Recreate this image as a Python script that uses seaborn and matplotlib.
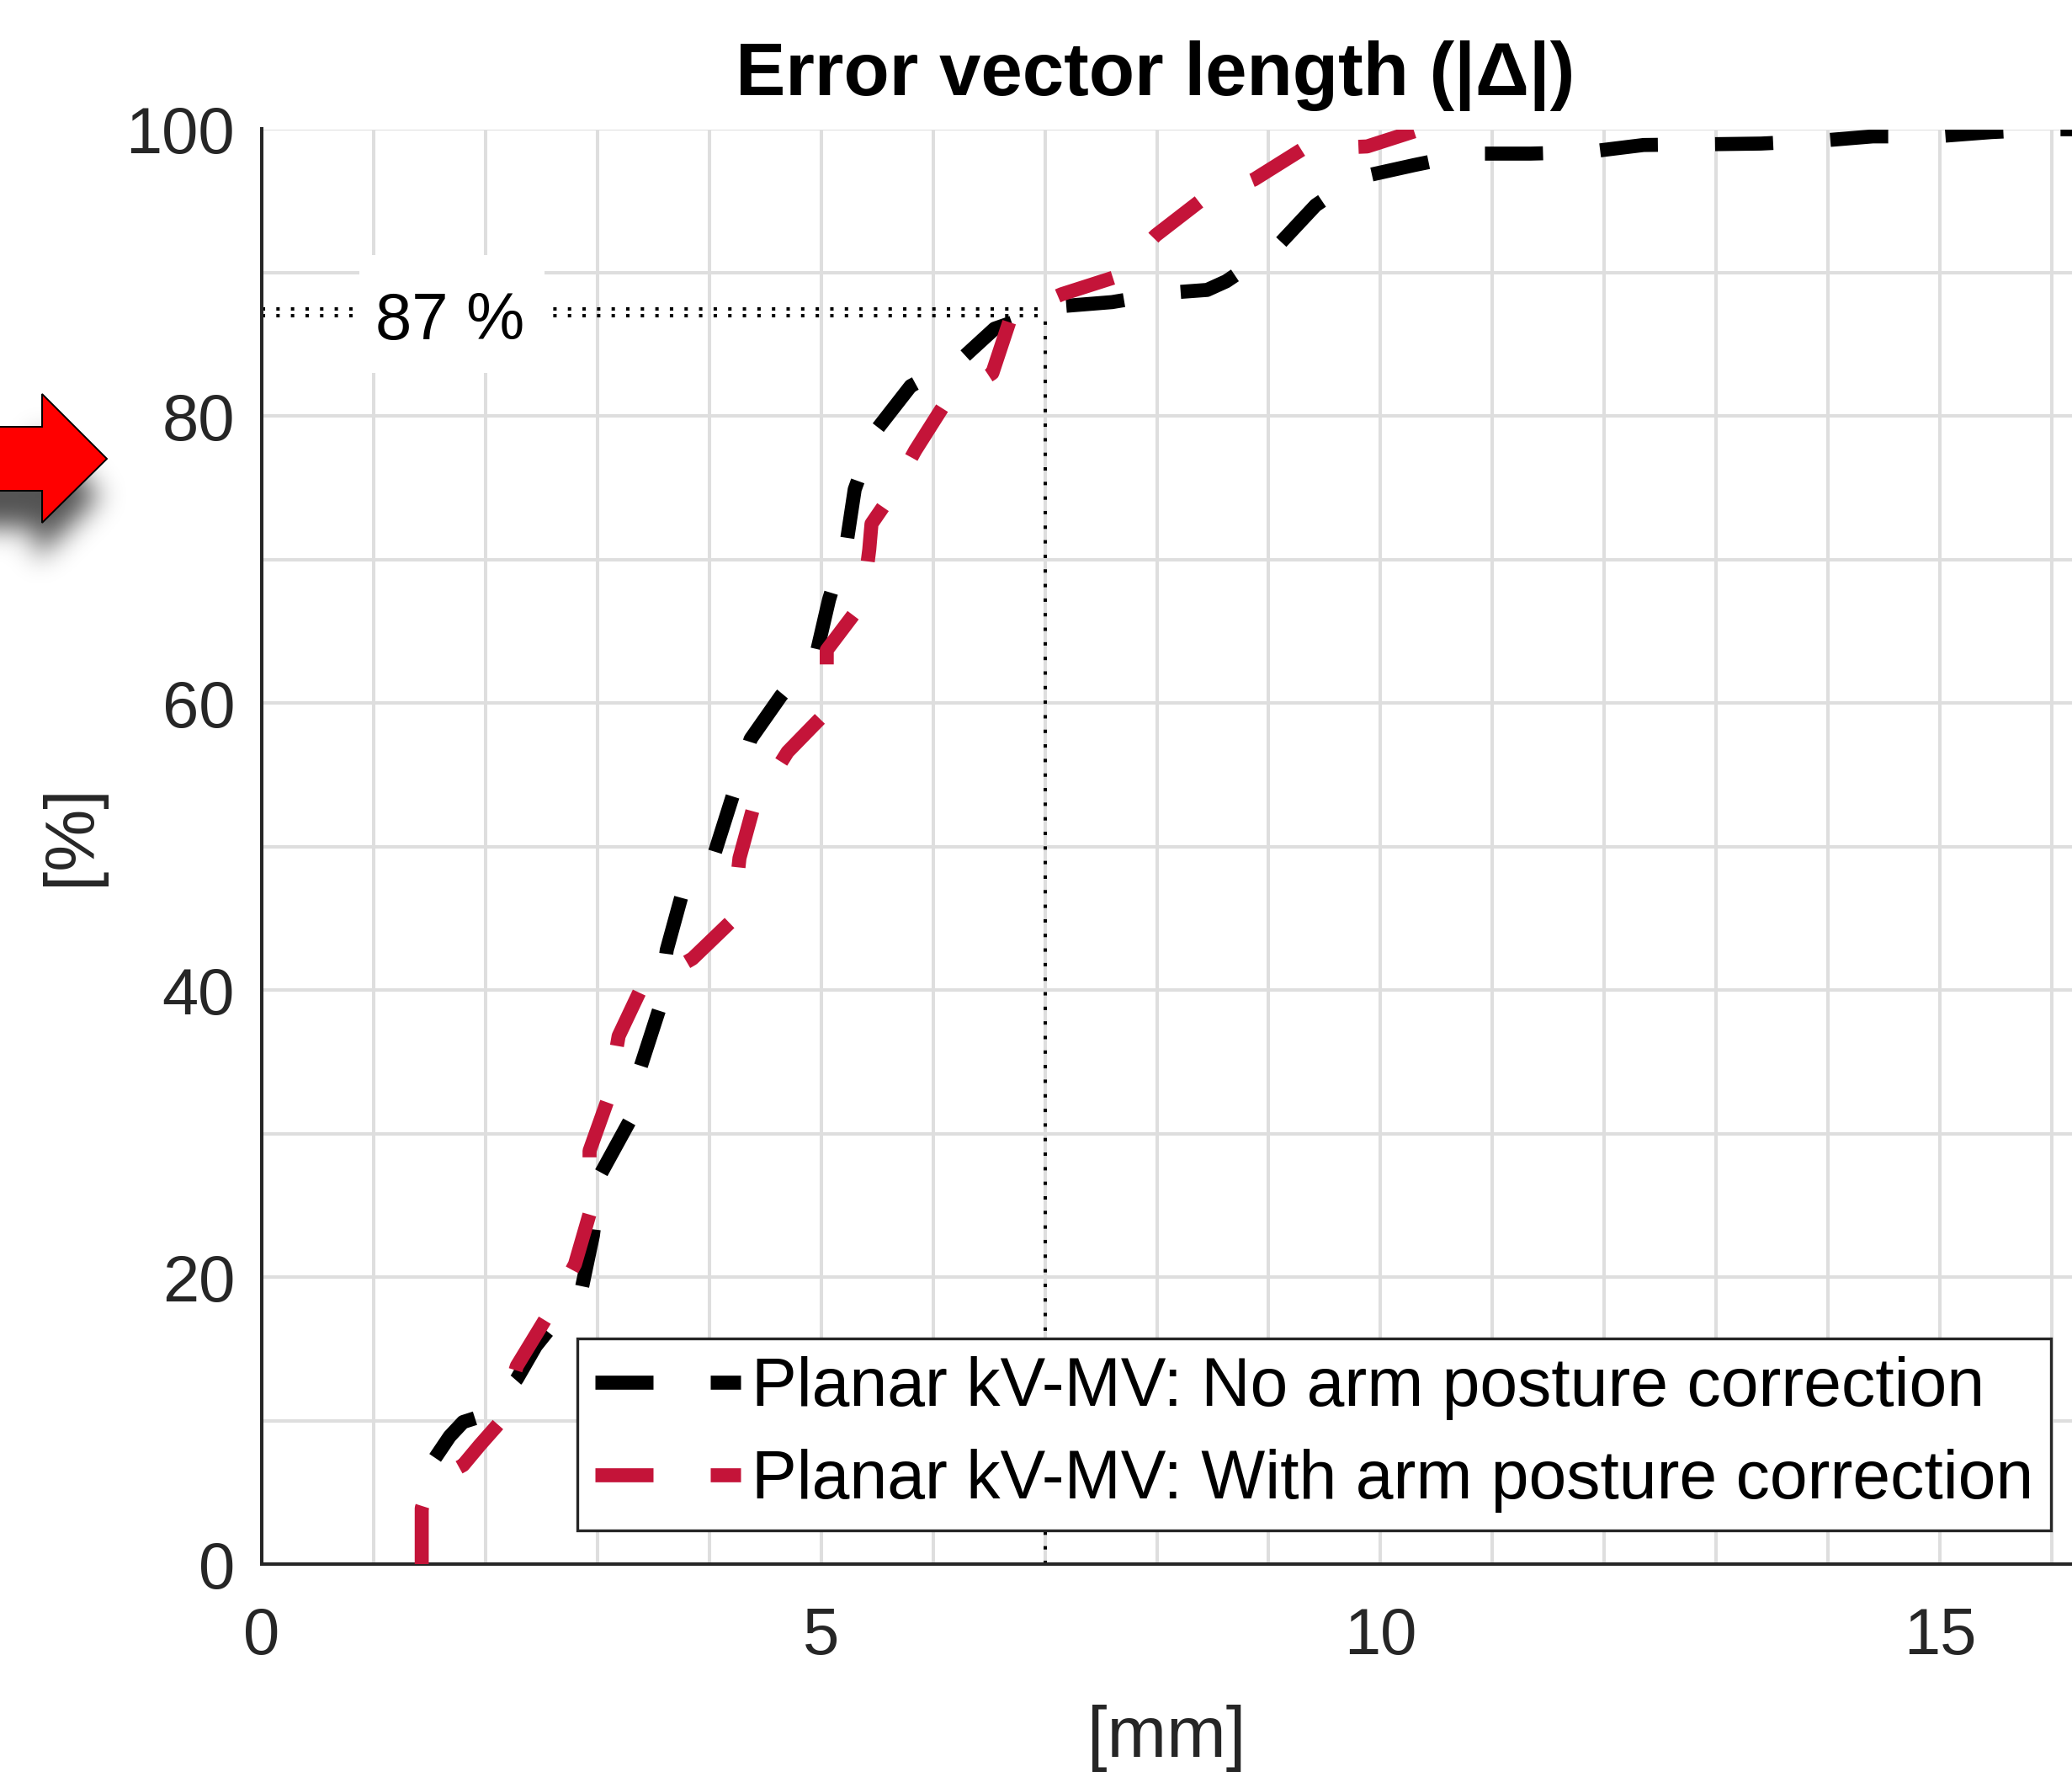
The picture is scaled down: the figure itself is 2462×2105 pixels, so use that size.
import numpy as np
import pandas as pd
import matplotlib
matplotlib.use("Agg")
import matplotlib.pyplot as plt
import seaborn as sns
from matplotlib.ticker import MultipleLocator, FixedLocator
from matplotlib.patches import Polygon, Rectangle
from matplotlib.path import Path

# ---------------- data ----------------
no_corr_mm = [1.55, 1.68, 1.80, 2.00, 2.28, 2.45, 2.86, 2.96, 3.03, 3.29, 3.38, 3.55,
              3.62, 3.75, 4.05, 4.20, 4.37, 4.64, 4.96, 5.07, 5.23, 5.30, 5.49, 5.80,
              6.27, 6.55, 7.12, 7.60, 8.10, 8.45, 8.62, 9.06, 9.42, 9.78, 10.30, 10.80,
              11.34, 11.83, 12.35, 12.90, 13.40, 13.93, 14.40, 14.96, 15.46, 16.00, 16.40]
no_corr_pct = [7.4, 8.9, 9.9, 10.4, 12.9, 15.2, 19.2, 22.9, 27.2, 30.9, 34.5, 38.6,
               42.8, 46.5, 49.6, 53.3, 57.5, 60.5, 63.5, 67.2, 71.3, 74.9, 79.0, 82.1,
               84.1, 86.1, 87.65, 87.95, 88.6, 88.8, 89.4, 91.7, 94.7, 96.6, 97.5, 98.3,
               98.3, 98.4, 98.9, 98.95, 99.0, 99.2, 99.5, 99.5, 99.8, 100.0, 100.0]

with_corr_mm = [1.43, 1.43, 1.50, 1.80, 1.95, 2.12, 2.28, 2.53, 2.80, 2.93, 2.93, 3.09,
                3.19, 3.39, 3.85, 4.21, 4.27, 4.40, 4.70, 5.05, 5.05, 5.37, 5.43, 5.45,
                5.60, 5.84, 6.10, 6.53, 6.70, 7.15, 7.63, 7.99, 8.38, 8.87, 9.30, 9.88, 10.36]
with_corr_pct = [0.0, 3.9, 5.6, 6.9, 8.3, 9.8, 13.8, 17.0, 20.9, 24.4, 28.8, 32.3,
                 36.8, 40.1, 42.2, 44.9, 49.2, 52.9, 56.6, 59.4, 63.7, 67.0, 70.7, 72.5,
                 74.2, 77.6, 80.8, 83.0, 87.0, 88.5, 89.7, 92.6, 94.95, 96.5, 98.6, 98.8, 100.0]

series_labels = ["Planar kV-MV: No arm posture correction",
                 "Planar kV-MV: With arm posture correction"]
title_text = "Error vector length (|Δ|)"
x_label = "[mm]"
y_label = "[%]"
x_ticks = [0, 5, 10, 15]
y_ticks = [0, 20, 40, 60, 80, 100]
ref_mm = 7.0
ref_pct = 87.3
ref_rows = [87.0, 87.5]
ref_text = "87 %"

# ---------------- figure ----------------
W, H, DPI = 2462, 2105, 100
sns.set_style("white")
plt.rcParams["font.family"] = ["Liberation Sans", "DejaVu Sans"]

AX_COL = "#262626"
GRID_COL = "#dedede"
RED = "#c41439"

fig = plt.figure(figsize=(W / DPI, H / DPI), dpi=DPI, facecolor="white")
ax = fig.add_axes([311 / W, 1 - 1858 / H, 1 - 311 / W, (1858 - 153.5) / H])
ax.set_facecolor("white")

dash = (0, (4.14, 4.08))
df_no = pd.DataFrame({"mm": no_corr_mm, "pct": no_corr_pct})
df_with = pd.DataFrame({"mm": with_corr_mm, "pct": with_corr_pct})
sns.lineplot(data=df_no, x="mm", y="pct", ax=ax, estimator=None, sort=False,
             color="black", linewidth=12, linestyle=dash, zorder=4, legend=False)
line_no = ax.get_lines()[-1]
sns.lineplot(data=df_with, x="mm", y="pct", ax=ax, estimator=None, sort=False,
             color=RED, linewidth=12, linestyle=dash, zorder=4.1, legend=False)
line_with = ax.get_lines()[-1]

# reference dotted lines
dot = (0, (1, 3.3))
for yv in ref_rows:
    ax.plot([0, ref_mm], [yv, yv], color="black", lw=2.9, linestyle=dot, zorder=2)
ax.plot([ref_mm, ref_mm], [0, ref_pct], color="black", lw=2.9, linestyle=dot, zorder=2)

# white label box + text
ax.add_patch(Rectangle((0.872, 83.0), 2.526 - 0.872, 91.2 - 83.0,
                       facecolor="white", edgecolor="none", zorder=3))
ax.text(1.684, 85.36, ref_text, ha="center", va="baseline", fontsize=56,
        color="black", zorder=3.5)

# axes styling
ax.set_xlim(0, 16.18)
ax.set_ylim(0, 100)
ax.xaxis.set_major_locator(FixedLocator(x_ticks))
ax.xaxis.set_minor_locator(MultipleLocator(1))
ax.yaxis.set_major_locator(FixedLocator(y_ticks))
ax.yaxis.set_minor_locator(MultipleLocator(10))
ax.grid(True, which="both", color=GRID_COL, lw=2.9)
ax.set_axisbelow(True)
for s in ["top", "right"]:
    ax.spines[s].set_visible(False)
for s in ["left", "bottom"]:
    ax.spines[s].set_color(AX_COL)
    ax.spines[s].set_linewidth(2.9)
ax.tick_params(which="both", direction="in", length=12.2, width=3.0, color=AX_COL)
ax.tick_params(axis="x", which="major", labelsize=56, pad=36, labelcolor=AX_COL)
ax.tick_params(axis="y", which="major", labelsize=56, pad=23, labelcolor=AX_COL)

ax.set_title(title_text, fontsize=64, fontweight="bold", pad=29, x=0.4935, color="black")
ax.set_xlabel(x_label, fontsize=61, color=AX_COL)
ax.xaxis.set_label_coords(0.5, (1858 - 2025) / 1704.5)
ax.set_ylabel(y_label, fontsize=60, color=AX_COL)
ax.yaxis.set_label_coords(-0.0869, 0.508)

leg = ax.legend(handles=[line_no, line_with], labels=series_labels,
                loc="lower right", bbox_to_anchor=(0.9884, 0.0235), borderaxespad=0,
                fontsize=58.0, handlelength=2.15, handletextpad=0.16, borderpad=0.26,
                labelspacing=0.42, frameon=True, fancybox=False, framealpha=1,
                edgecolor=AX_COL)
leg.get_frame().set_linewidth(2.4)
leg.set_zorder(10)
for t in leg.get_texts():
    t.set_color("black")

# ---------------- red arrow with soft shadow ----------------
arrow_px = np.array([(-100, 507), (50, 507), (50, 468), (127, 545),
                     (50, 621), (50, 583), (-100, 583)], dtype=float)

sx0, sx1, sy0, sy1 = -200, 280, 400, 820
xs = np.arange(sx0, sx1) + 0.5
ys = np.arange(sy0, sy1) + 0.5
XX, YY = np.meshgrid(xs, ys)
shadow_poly = arrow_px + np.array([-8.0, 44.0])
mask = Path(shadow_poly).contains_points(
    np.column_stack([XX.ravel(), YY.ravel()])).reshape(XX.shape).astype(float)
sig = 16
kk = np.arange(-3 * sig, 3 * sig + 1)
kern = np.exp(-0.5 * (kk / sig) ** 2)
kern /= kern.sum()
blur = np.apply_along_axis(np.convolve, 1, mask, kern, mode="same")
blur = np.apply_along_axis(np.convolve, 0, blur, kern, mode="same")
blur = blur[:, -sx0:]
rgba = np.zeros(blur.shape + (4,))
rgba[..., 3] = 0.68 * blur
fig.figimage(rgba, xo=0, yo=H - sy1, origin="upper", zorder=9)

arrow_fig = np.column_stack([arrow_px[:, 0] / W, 1 - arrow_px[:, 1] / H])
fig.add_artist(Polygon(arrow_fig, closed=True, transform=fig.transFigure,
                       facecolor="#ff0000", edgecolor="black", lw=1.4, zorder=10))

fig.savefig("out.png", dpi=DPI, facecolor="white")
